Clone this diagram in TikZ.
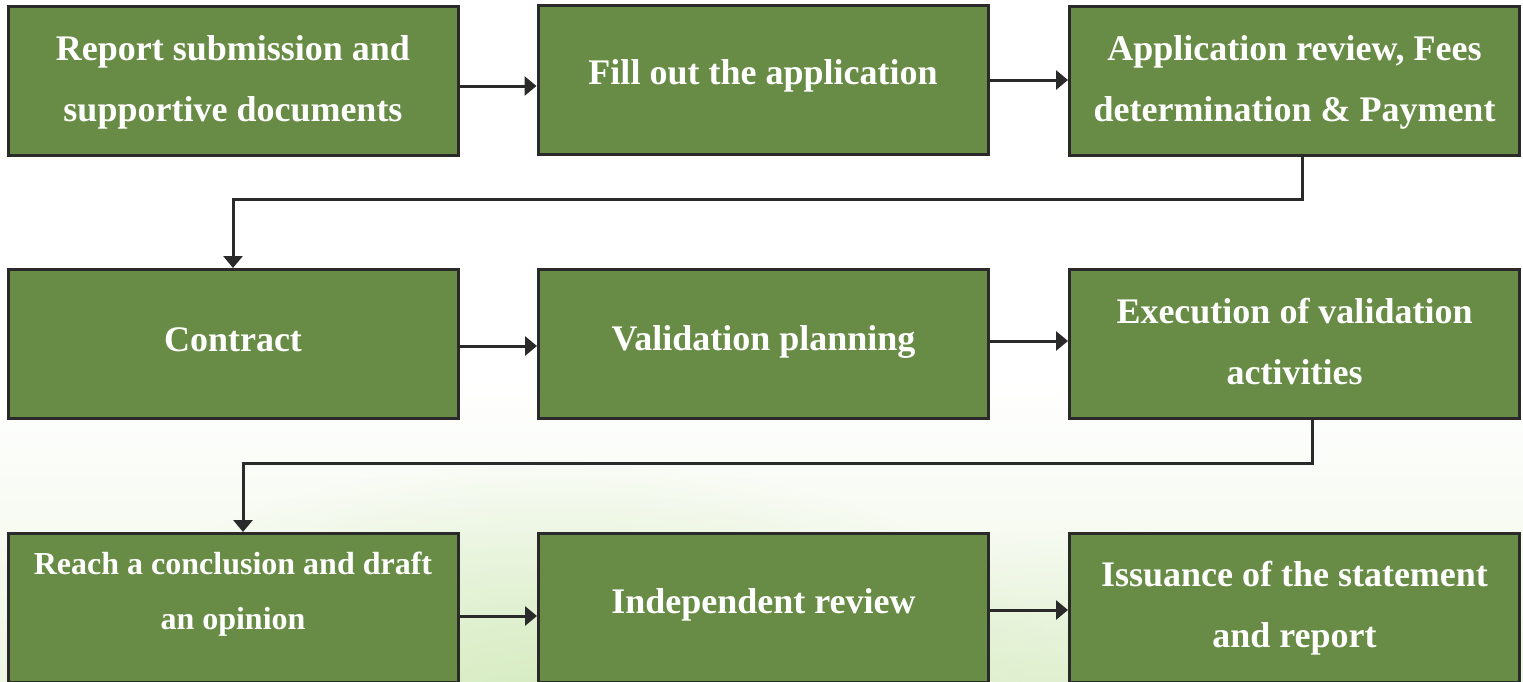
\documentclass[tikz,border=0pt]{standalone}
\usepackage{fontspec}
\setmainfont{Liberation Serif}
\usetikzlibrary{arrows.meta,fadings}
\definecolor{boxgreen}{HTML}{688C45}
\definecolor{boxline}{HTML}{2A2A2A}
\definecolor{glow}{HTML}{D4EBBE}
\definecolor{paleglow}{HTML}{EEF6E4}
\tikzfading[name=softglow, inner color=transparent!0, outer color=transparent!100]
\begin{document}
\begin{tikzpicture}[x=1pt,y=-1pt,
  stepbox/.style={draw=boxline,line width=3pt,fill=boxgreen,minimum width=450pt,minimum height=149pt,inner sep=0pt},
  boxtext/.style={text=white,align=center,font=\bfseries\fontsize{36}{61}\selectfont,inner sep=0pt},
  flow/.style={draw=boxline,line width=3pt,-{Triangle[length=12pt,width=19pt]}}]
\useasboundingbox (0,0) rectangle (1523,681);
\clip (0,0) rectangle (1523,681);
% background
\fill[white] (0,0) rectangle (1523,681);
\shade[top color=white,bottom color=paleglow] (0,380) rectangle (1523,681);
\fill[glow,path fading=softglow] (560,720) ellipse (520pt and 260pt);
\fill[glow,path fading=softglow,opacity=0.7] (1100,730) ellipse (420pt and 200pt);
% nodes
\node[stepbox,label={[boxtext,yshift=-2pt]center:{Report submission and\\supportive documents}}] (b1) at (233,80.5) {};
\node[stepbox,label={[boxtext,yshift=4pt]center:{Fill out the application}}] (b2) at (763,79.5) {};
\node[stepbox,label={[boxtext,yshift=-2pt]center:{Application review, Fees\\determination \& Payment}}] (b3) at (1294.5,80.5) {};
\node[stepbox,label={[boxtext,yshift=4pt]center:{Contract}}] (b4) at (233,344) {};
\node[stepbox,label={[boxtext,yshift=2pt]center:{Validation planning}}] (b5) at (763.5,344) {};
\node[stepbox,label={[boxtext,yshift=3pt]center:{Execution of validation\\activities}}] (b6) at (1294.5,344) {};
\node[stepbox,label={[boxtext,yshift=14pt,font=\bfseries\fontsize{32}{55}\selectfont]center:{Reach a conclusion and draft\\an opinion}}] (b7) at (233,608) {};
\node[stepbox,label={[boxtext,yshift=3pt]center:{Independent review}}] (b8) at (763.5,608) {};
\node[stepbox,label={[boxtext]center:{Issuance of the statement\\and report}}] (b9) at (1294.5,608) {};
% connectors
\coordinate (k1) at (0,199);
\coordinate (k2) at (0,463);
\draw[flow] (b1.east |- 0,86) -- (b2.west |- 0,86);
\draw[flow] (b2.east |- 0,80) -- (b3.west |- 0,80);
\draw[flow] ([xshift=7.5pt]b3.south) |- (k1 -| b4.north) -- (b4.north);
\draw[flow] (b4.east |- 0,346) -- (b5.west |- 0,346);
\draw[flow] (b5.east |- 0,341) -- (b6.west |- 0,341);
\draw[flow] ([xshift=17.5pt]b6.south) |- ([xshift=10pt]k2 -| b7.north) -- ([xshift=10pt]b7.north);
\draw[flow] (b7.east |- 0,616) -- (b8.west |- 0,616);
\draw[flow] (b8.east |- 0,610) -- (b9.west |- 0,610);
\end{tikzpicture}
\end{document}
